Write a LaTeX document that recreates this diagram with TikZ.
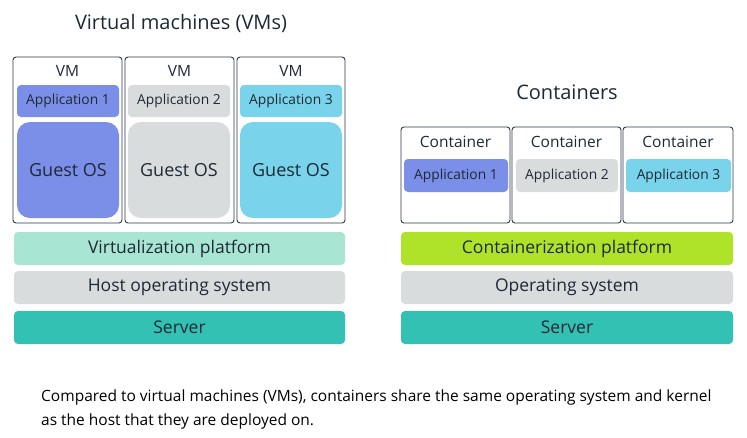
\documentclass[tikz,border=0pt]{standalone}
\usepackage{fontspec}
\setmainfont{Open Sans}

\definecolor{ink}{HTML}{1E2936}
\definecolor{edge}{HTML}{2E3B4A}
\definecolor{appone}{HTML}{7B8FE8}
\definecolor{apptwo}{HTML}{D9DCDC}
\definecolor{appthree}{HTML}{79D3EA}
\definecolor{virtmint}{HTML}{A8E6D3}
\definecolor{hostgray}{HTML}{D9DCDC}
\definecolor{serverteal}{HTML}{33C1B4}
\definecolor{contlime}{HTML}{AEE32A}

\tikzset{
  heading/.style={font=\fontsize{20}{24}\selectfont, text=ink},
  frame/.style={draw=edge, line width=0.9pt, rounded corners=3pt, fill=white, inner sep=0pt},
  tag/.style={font=\fontsize{15.5}{18}\selectfont, text=ink},
  appbox/.style={rounded corners=4pt, inner sep=0pt, minimum width=102pt, minimum height=32pt,
    font=\fontsize{13.8}{16}\selectfont, text=ink},
  guestos/.style={rounded corners=13pt, inner sep=0pt, minimum width=102pt, minimum height=96pt,
    font=\fontsize{18}{21}\selectfont, text=ink},
  layer/.style={rounded corners=4pt, inner sep=0pt, minimum height=33pt,
    font=\fontsize{17.5}{21}\selectfont, text=ink},
}

\begin{document}
\begin{tikzpicture}[x=1pt, y=-1pt]
  \useasboundingbox[fill=white] (0,0) rectangle (747,437);

  % Titles
  \node[heading] (vmtitle)   at (181,23) {Virtual machines (VMs)};
  \node[heading] (conttitle) at (567,92) {Containers};

  % Virtual machines
  \node[frame, minimum width=109pt, minimum height=166pt] (vm1) at (67.5,140) {};
  \node[frame, minimum width=109pt, minimum height=166pt] (vm2) at (179.5,140) {};
  \node[frame, minimum width=108pt, minimum height=166pt] (vm3) at (291,140) {};

  \node[tag] (vmtag1) at (67.5,71)  {VM};
  \node[tag] (vmtag2) at (179.5,71) {VM};
  \node[tag] (vmtag3) at (291,71)   {VM};

  \node[appbox, fill=appone]   (vmapp1) at (68,101)  {Application 1};
  \node[appbox, fill=apptwo]   (vmapp2) at (179,101) {Application 2};
  \node[appbox, fill=appthree] (vmapp3) at (291,101) {Application 3};

  \node[guestos, fill=appone]   (guest1) at (68,170)  {Guest OS};
  \node[guestos, fill=apptwo]   (guest2) at (179,170) {Guest OS};
  \node[guestos, fill=appthree] (guest3) at (291,170) {Guest OS};

  % Containers
  \node[frame, minimum width=109pt, minimum height=96pt] (cont1) at (455.5,175) {};
  \node[frame, minimum width=109pt, minimum height=96pt] (cont2) at (566.5,175) {};
  \node[frame, minimum width=110pt, minimum height=96pt] (cont3) at (678,175) {};

  \node[tag] (conttag1) at (455.5,142) {Container};
  \node[tag] (conttag2) at (566.5,142) {Container};
  \node[tag] (conttag3) at (678,142)   {Container};

  \node[appbox, fill=appone,   minimum width=104pt, minimum height=33pt] (contapp1) at (456,175.5) {Application 1};
  \node[appbox, fill=apptwo,   minimum width=102pt, minimum height=33pt] (contapp2) at (567,175.5) {Application 2};
  \node[appbox, fill=appthree, minimum width=105pt, minimum height=33pt] (contapp3) at (678.5,175.5) {Application 3};

  % Layers
  \node[layer, fill=virtmint,   minimum width=331pt] (virt)     at (179.5,248.5) {Virtualization platform};
  \node[layer, fill=hostgray,   minimum width=331pt] (hostos)   at (179.5,287.5) {Host operating system};
  \node[layer, fill=serverteal, minimum width=331pt] (vmserver) at (179.5,327.5) {Server};

  \node[layer, fill=contlime,   minimum width=332pt] (contplat)   at (567,248.5) {Containerization platform};
  \node[layer, fill=hostgray,   minimum width=332pt] (opsys)      at (567,287.5) {Operating system};
  \node[layer, fill=serverteal, minimum width=332pt] (contserver) at (567,327.5) {Server};

  % Caption
  \node[anchor=west, align=left, inner sep=0pt, text=black,
        font=\fontsize{15.5}{24}\selectfont] (caption) at (41,409)
    {Compared to virtual machines (VMs), containers share the same operating system and kernel\\
     as the host that they are deployed on.};

\end{tikzpicture}
\end{document}
